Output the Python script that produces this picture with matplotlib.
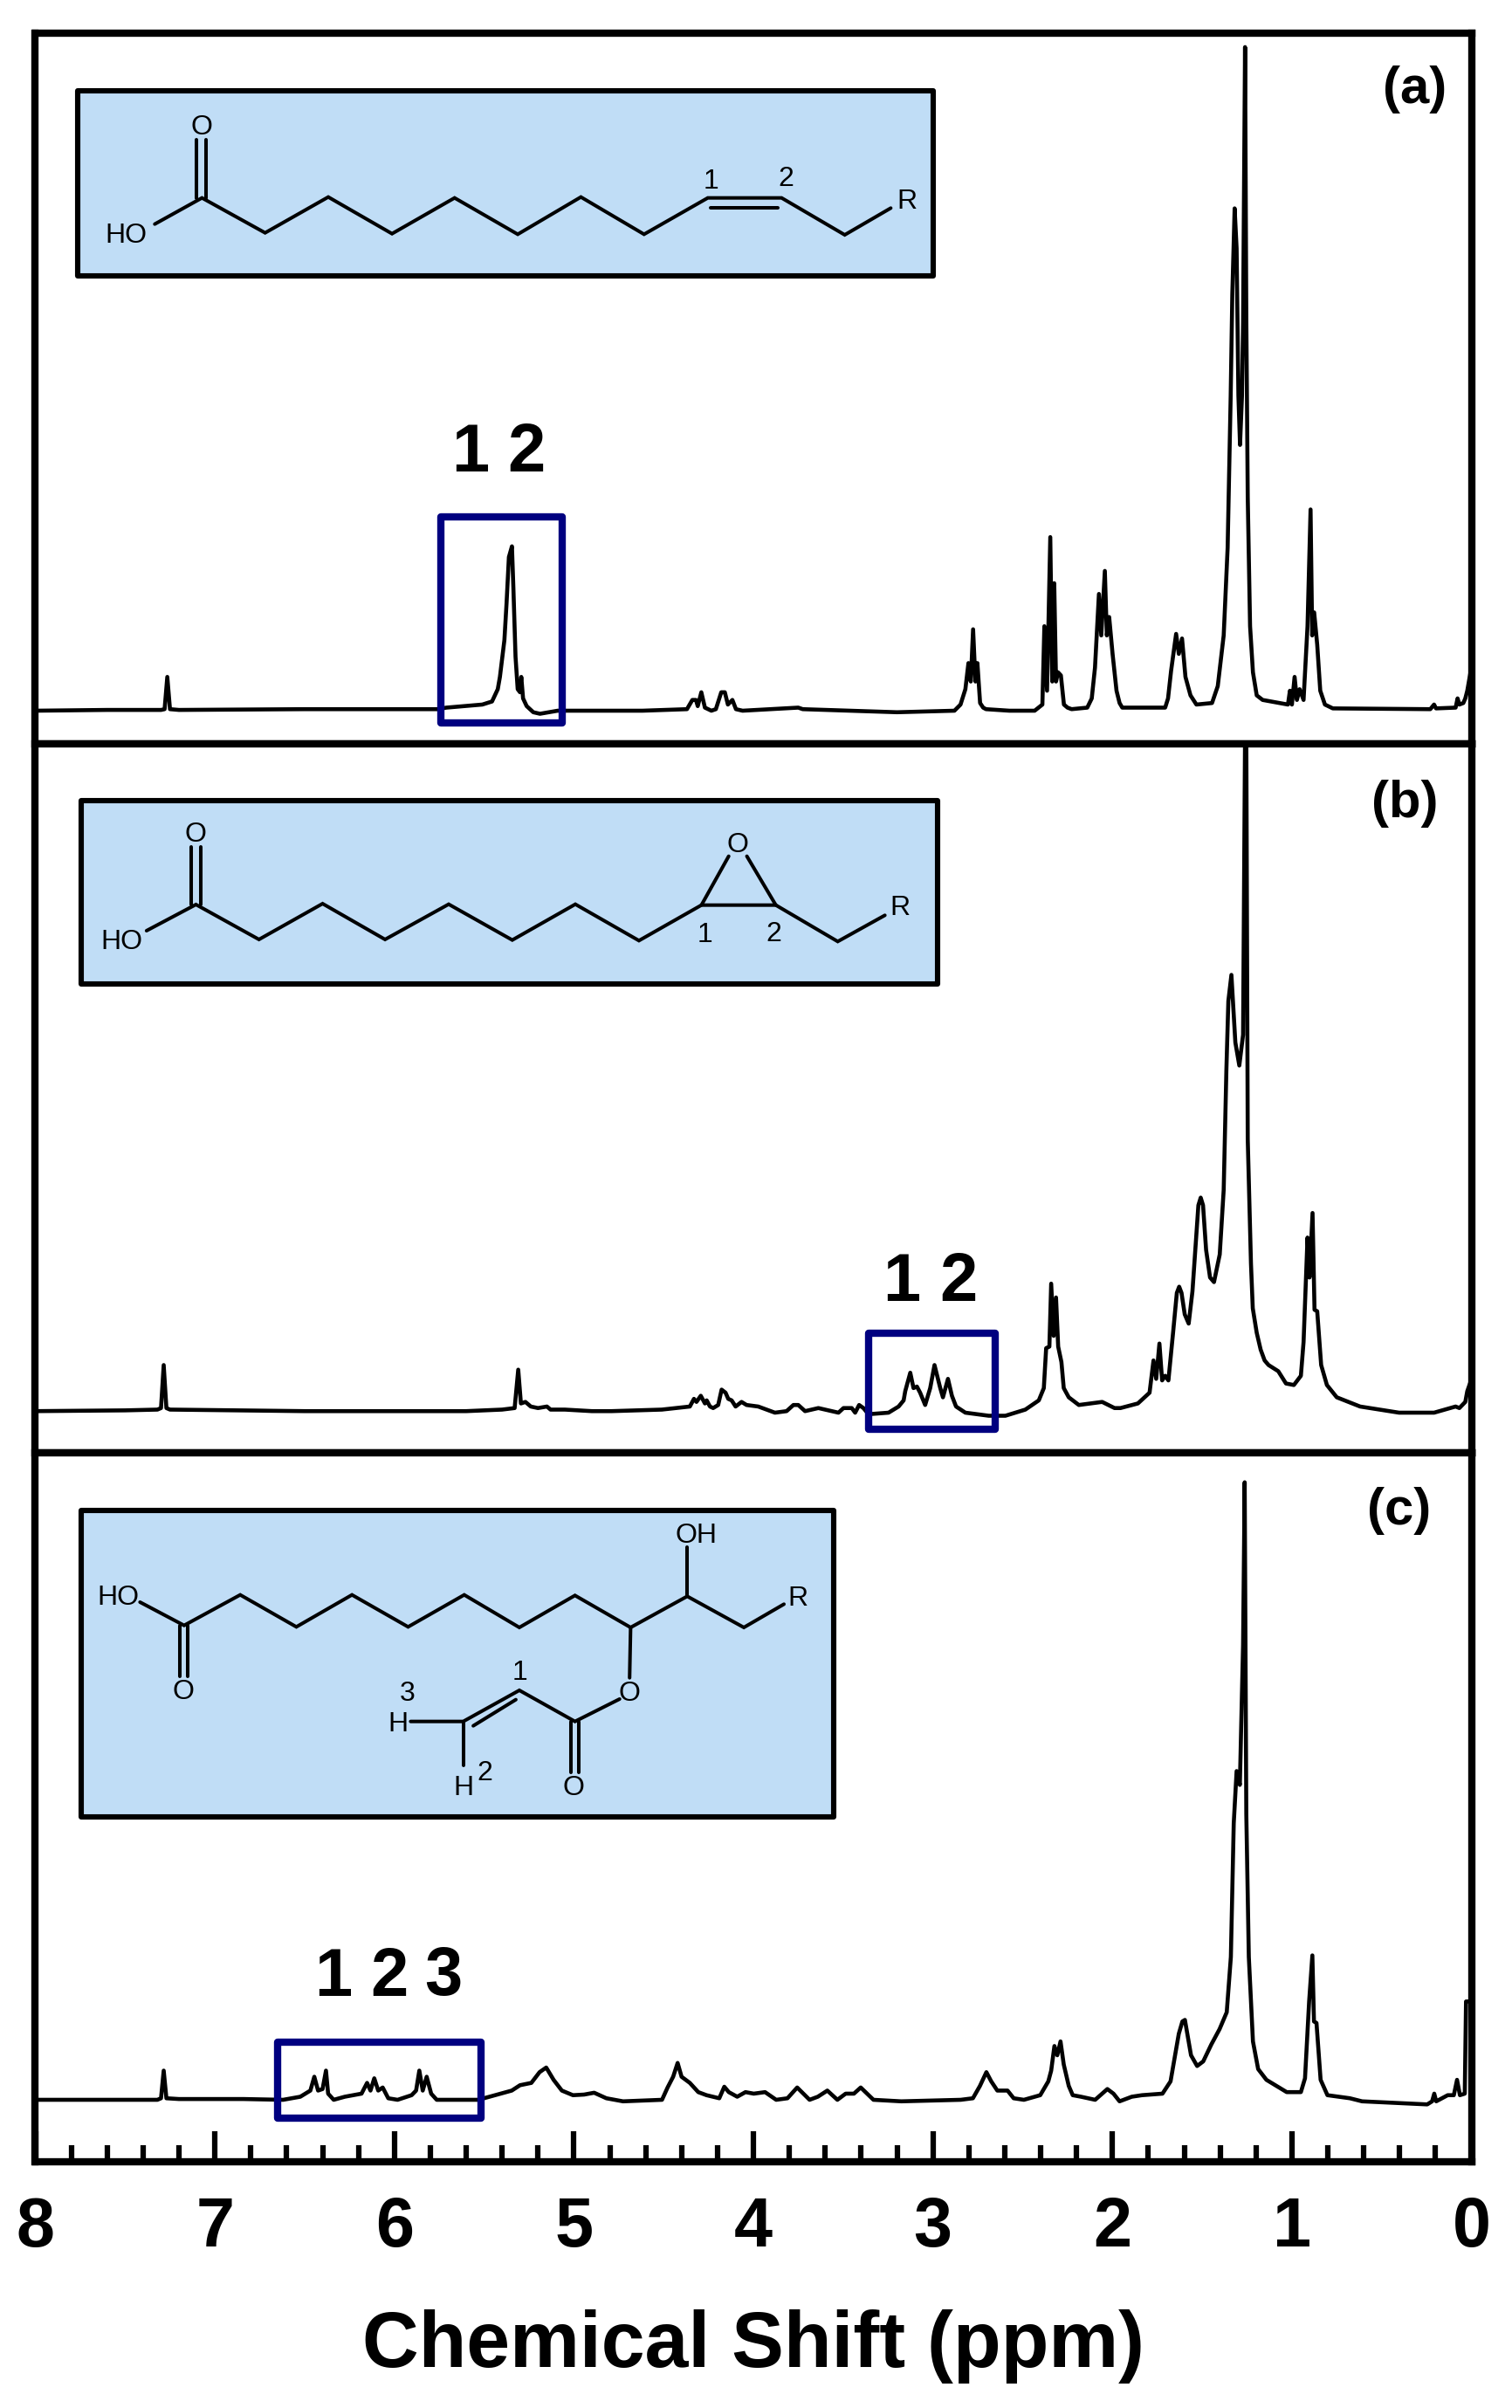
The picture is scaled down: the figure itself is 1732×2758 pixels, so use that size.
import matplotlib
matplotlib.use("Agg")
import matplotlib.pyplot as plt
from matplotlib.patches import Rectangle

plt.rcParams['font.family'] = ['Liberation Sans', 'DejaVu Sans']

W, H = 1733, 2758

# ---------- spectra: (chemical shift in ppm, intensity) ----------
spectrum_a = [
    (8.0, 0), (7.6, 0.5), (7.30, 0.5), (7.28, 1), (7.265, 22), (7.25, 1), (7.2, 0.5), (6.5, 1), (6.0, 1),
    (5.76, 1), (5.71, 2), (5.51, 4), (5.456, 6), (5.424, 14), (5.412, 22), (5.387, 46), (5.375, 70),
    (5.362, 100), (5.345, 107), (5.337, 80), (5.325, 35), (5.313, 14), (5.30, 12), (5.293, 22), (5.283, 8),
    (5.263, 3), (5.226, -1), (5.189, -2), (5.09, 0), (4.618, 0), (4.37, 1), (4.34, 7), (4.32, 7), (4.31, 3),
    (4.29, 12), (4.27, 2), (4.234, 0), (4.209, 1), (4.179, 12), (4.159, 12), (4.142, 4), (4.117, 7), (4.097, 1),
    (4.06, 0), (3.75, 2), (3.725, 1), (3.2, -1), (2.88, 0),
    (2.846, 4), (2.819, 14), (2.802, 31), (2.789, 19), (2.776, 53), (2.763, 19), (2.752, 31), (2.737, 5),
    (2.72, 2), (2.704, 1), (2.574, 0), (2.433, 0), (2.390, 4), (2.379, 55), (2.364, 13), (2.346, 113), (2.335, 19),
    (2.324, 83), (2.314, 19), (2.303, 25), (2.287, 23), (2.270, 4), (2.25, 2), (2.227, 1), (2.140, 2), (2.115, 8),
    (2.097, 28), (2.075, 76), (2.062, 49), (2.042, 91), (2.031, 49), (2.018, 61), (1.999, 37), (1.977, 13),
    (1.96, 5), (1.945, 2), (1.706, 2), (1.69, 8), (1.673, 26), (1.645, 50), (1.630, 37), (1.612, 47), (1.593, 22),
    (1.565, 10), (1.532, 4), (1.445, 5), (1.413, 16), (1.380, 49), (1.358, 106), (1.341, 205), (1.332, 271),
    (1.319, 327), (1.308, 301), (1.298, 205), (1.289, 173), (1.278, 205), (1.272, 253), (1.261, 432), (1.254, 256),
    (1.246, 139), (1.233, 55), (1.217, 25), (1.196, 10), (1.163, 7), (1.022, 4), (1.011, 13), (1.0, 4), (0.985, 22),
    (0.972, 7), (0.957, 14), (0.935, 7), (0.913, 55), (0.896, 131), (0.887, 49), (0.876, 64), (0.859, 43),
    (0.842, 13), (0.816, 4), (0.772, 1.5), (0.229, 1), (0.208, 4), (0.197, 1.5), (0.088, 2), (0.077, 8),
    (0.067, 4), (0.045, 5), (0.034, 8), (0.023, 13), (0.005, 25),
]

spectrum_b = [
    (8.0, 1), (7.5, 1.5), (7.32, 2), (7.30, 3), (7.285, 31), (7.27, 3), (7.25, 2), (6.5, 1), (5.6, 1), (5.4, 2),
    (5.33, 3), (5.31, 28), (5.295, 6), (5.27, 7), (5.24, 4), (5.2, 3), (5.15, 4), (5.13, 2), (5.05, 2), (4.9, 1),
    (4.79, 1), (4.51, 2), (4.354, 4), (4.331, 9), (4.317, 7), (4.293, 11), (4.27, 6), (4.26, 8), (4.242, 4),
    (4.224, 3), (4.196, 5), (4.177, 15), (4.155, 13), (4.14, 9), (4.121, 8), (4.099, 4), (4.066, 7), (4.038, 5),
    (3.973, 4), (3.88, 0), (3.815, 1), (3.777, 5), (3.75, 5), (3.712, 1), (3.638, 3), (3.526, 0), (3.498, 3),
    (3.452, 3), (3.433, 0), (3.411, 5), (3.387, 3), (3.359, -1), (3.247, 0), (3.191, 4), (3.163, 8), (3.154, 14),
    (3.126, 26), (3.108, 16), (3.089, 17), (3.071, 13), (3.043, 5), (3.015, 16), (2.991, 31), (2.959, 16),
    (2.944, 10), (2.916, 22), (2.894, 11), (2.871, 4), (2.819, 0), (2.689, -2), (2.596, -2), (2.485, 2),
    (2.41, 8), (2.382, 16), (2.369, 42), (2.351, 43), (2.341, 84), (2.327, 50), (2.314, 75), (2.302, 43),
    (2.284, 33), (2.271, 16), (2.243, 10), (2.187, 5), (2.057, 7), (1.988, 3), (1.955, 3), (1.858, 6),
    (1.793, 13), (1.771, 34), (1.756, 22), (1.738, 45), (1.723, 21), (1.706, 24), (1.688, 21), (1.662, 52),
    (1.641, 78), (1.628, 82), (1.615, 78), (1.597, 64), (1.575, 58), (1.554, 79), (1.521, 135), (1.508, 140),
    (1.495, 135), (1.478, 106), (1.456, 88), (1.434, 85), (1.402, 103), (1.380, 145), (1.365, 223), (1.354, 268),
    (1.337, 285), (1.315, 241), (1.293, 226), (1.272, 246), (1.261, 440), (1.254, 440), (1.246, 178), (1.228, 97),
    (1.218, 68), (1.196, 52), (1.174, 41), (1.152, 34), (1.13, 31), (1.076, 27), (1.033, 19), (0.989, 18),
    (0.950, 24), (0.935, 46), (0.913, 114), (0.902, 88), (0.885, 130), (0.874, 67), (0.859, 66), (0.837, 31),
    (0.805, 18), (0.750, 10), (0.620, 4), (0.403, 0), (0.208, 0), (0.088, 4), (0.067, 3), (0.034, 7), (0.023, 14),
    (0.005, 20),
]

spectrum_c = [
    (8.0, 0), (7.6, 0), (7.32, 0), (7.30, 1), (7.285, 19), (7.27, 1), (7.2, 0.5), (6.84, 0.5), (6.62, 0),
    (6.524, 2), (6.468, 6), (6.446, 15), (6.425, 6), (6.40, 7), (6.381, 19), (6.369, 4), (6.338, 0), (6.276, 2),
    (6.183, 4), (6.152, 11), (6.133, 6), (6.112, 14), (6.09, 6), (6.065, 8), (6.034, 1), (5.982, 0), (5.904, 3),
    (5.879, 6), (5.861, 19), (5.842, 6), (5.82, 15), (5.795, 4), (5.764, 0), (5.532, 0), (5.439, 3), (5.346, 6),
    (5.30, 9.5), (5.237, 11), (5.191, 18), (5.154, 21), (5.113, 13), (5.067, 6), (5.005, 3), (4.943, 3.4),
    (4.887, 4.6), (4.819, 1), (4.726, -1), (4.509, 0), (4.478, 8), (4.447, 15), (4.422, 24), (4.40, 15),
    (4.354, 11), (4.307, 5), (4.261, 3), (4.19, 1), (4.162, 8.5), (4.137, 5), (4.09, 2), (4.044, 5), (3.998, 4),
    (3.935, 5), (3.873, 0), (3.81, 1), (3.756, 8), (3.687, 0), (3.641, 2), (3.588, 6), (3.532, 0), (3.486, 4),
    (3.44, 4), (3.402, 8), (3.331, 0), (3.176, -1), (2.845, 0), (2.777, 1), (2.738, 9), (2.702, 18), (2.675, 12),
    (2.641, 6), (2.584, 6), (2.55, 1), (2.493, 0), (2.402, 3), (2.357, 12), (2.341, 19), (2.323, 35), (2.307, 29),
    (2.289, 38), (2.271, 23), (2.243, 9), (2.221, 3), (2.175, 2), (2.096, 0), (2.028, 7), (1.994, 4), (1.96, -1),
    (1.892, 2), (1.835, 3), (1.721, 4), (1.676, 12), (1.63, 43), (1.61, 51), (1.596, 52), (1.562, 29), (1.528, 22),
    (1.494, 25), (1.449, 36), (1.403, 46), (1.363, 57), (1.34, 93), (1.324, 180), (1.308, 214), (1.29, 205),
    (1.272, 296), (1.263, 402), (1.254, 186), (1.24, 93), (1.217, 38), (1.188, 20), (1.142, 13), (1.029, 5),
    (0.95, 5), (0.927, 14), (0.904, 64), (0.886, 94), (0.877, 51), (0.863, 50), (0.84, 13), (0.802, 3),
    (0.677, 1), (0.609, -1), (0.246, -3), (0.219, -1), (0.207, 4), (0.196, -1), (0.132, 3), (0.098, 3),
    (0.08, 13), (0.064, 3), (0.037, 4), (0.03, 64), (0.005, 64),
]

major_ticks = [8, 7, 6, 5, 4, 3, 2, 1, 0]
major_labels = ['8', '7', '6', '5', '4', '3', '2', '1', '0']
minor_ticks = [v / 5 for v in range(0, 41) if v % 5 != 0]
panel_tags = ['(a)', '(b)', '(c)']
axis_title = 'Chemical Shift (ppm)'

# ---------- layout in pixels ----------
LEFT, RIGHT = 40.5, 1685.5
PANELS = [(38, 852, 814), (852, 1664, 1618), (1664, 2476, 2405)]  # top, bottom, baseline
UNIT = 1.7594  # pixels per intensity unit
SPECTRA = [spectrum_a, spectrum_b, spectrum_c]

fig = plt.figure(figsize=(W / 100, H / 100), dpi=100, facecolor='white')
axes = []
for (top, bottom, base), spec in zip(PANELS, SPECTRA):
    ax = fig.add_axes([LEFT / W, 1 - bottom / H, (RIGHT - LEFT) / W, (bottom - top) / H])
    ppm, inten = zip(*spec)
    ax.plot(ppm, inten, color='black', lw=3.3, solid_joinstyle='round')
    ax.set_xlim(8, 0)
    ax.set_ylim((base - bottom) / UNIT, (base - top) / UNIT)
    ax.set_yticks([])
    for s in ax.spines.values():
        s.set_linewidth(6)
        s.set_zorder(5)
    ax.set_xticks([])
    axes.append(ax)

ax_c = axes[-1]
ax_c.set_xticks(major_ticks)
ax_c.set_xticklabels(major_labels, fontsize=57, fontweight='bold')
ax_c.set_xticks(minor_ticks, minor=True)
ax_c.tick_params(axis='x', which='major', direction='in', length=25, width=4.5, pad=28)
ax_c.tick_params(axis='x', which='minor', direction='in', length=14, width=4.5)
ax_c.set_xlabel(axis_title, fontsize=64.5, fontweight='bold', labelpad=40)

# ---------- overlay in pixel coordinates ----------
ov = fig.add_axes([0, 0, 1, 1], zorder=10)
ov.set_xlim(0, W)
ov.set_ylim(H, 0)
ov.axis('off')
ov.patch.set_alpha(0)

def box(x0, y0, x1, y1, fc, ec, lw):
    ov.add_patch(Rectangle((x0, y0), x1 - x0, y1 - y0, fc=fc, ec=ec, lw=lw, joinstyle='round'))

def structure(xo, yo, sx, sy, lines, labels):
    for pts in lines:
        ov.plot([xo + p[0] / sx for p in pts], [yo + p[1] / sy for p in pts],
                color='black', lw=2.9, solid_joinstyle='miter', solid_capstyle='round')
    for zx, zy, s in labels:
        ov.text(xo + zx / sx, yo + zy / sy + 3, s, ha='center', va='center', fontsize=23, color='black')

BLUE = '#C0DDF6'
NAVY = '#000080'

# structure (a)
box(88.7, 104, 1069, 316, BLUE, 'black', 4.4)
structure(40, 80, 1.479, 3, [
    [(203, 530), (283, 440), (390, 560), (497, 437), (605, 563), (711, 440), (818, 565), (925, 437),
     (1032, 565), (1140, 440), (1265, 440), (1372, 567), (1450, 475)],
    [(273, 440), (273, 240)], [(290, 440), (290, 240)], [(1145, 475), (1258, 475)],
], [(283, 190, 'O'), (155, 560, 'HO'), (1145, 375, '1'), (1272, 365, '2'), (1477, 445, 'R')])

# structure (b)
box(93, 917, 1074, 1127, BLUE, 'black', 4.4)
structure(80, 910, 1.537, 3, [
    [(135, 468), (222, 378), (333, 498), (445, 375), (555, 498), (667, 377), (779, 500), (890, 377),
     (1002, 502), (1112, 380), (1243, 380), (1352, 505), (1435, 415)],
    [(1112, 380), (1160, 212)], [(1243, 380), (1192, 212)],
    [(213, 378), (213, 180)], [(230, 378), (230, 180)],
], [(222, 128, 'O'), (1175, 165, 'O'), (92, 498, 'HO'), (1118, 475, '1'), (1240, 472, '2'), (1462, 380, 'R')])

# structure (c)
box(92.6, 1730, 955, 2081, BLUE, 'black', 4.4)
structure(80, 1720, 1.742, 3, [
    [(140, 345), (228, 425), (340, 320), (452, 430), (563, 320), (675, 430), (787, 320), (897, 432),
     (1008, 322), (1119, 432), (1232, 325), (1345, 432), (1425, 352)],
    [(1232, 325), (1232, 155)], [(1119, 432), (1117, 605)],
    [(1097, 678), (1008, 755), (897, 648), (785, 755), (680, 755)], [(890, 680), (805, 770)],
    [(785, 755), (785, 905)], [(1000, 755), (1000, 930)], [(1016, 755), (1016, 930)],
    [(220, 425), (220, 600)], [(236, 425), (236, 600)],
], [(1250, 108, 'OH'), (1452, 325, 'R'), (97, 320, 'HO'), (1117, 650, 'O'), (655, 757, 'H'), (785, 975, 'H'),
    (1005, 975, 'O'), (227, 645, 'O'), (898, 580, '1'), (673, 650, '3'), (828, 925, '2')])

# navy highlight boxes
box(505, 592, 644, 828, 'none', NAVY, 6)
box(995, 1527, 1140, 1637, 'none', NAVY, 6)
box(318, 2339, 551, 2426, 'none', NAVY, 6)

# peak numbers
for x, y, s in [(539, 520, '1'), (603, 520, '2'), (1033, 1470, '1'), (1098, 1470, '2'),
                (382, 2265, '1'), (446, 2265, '2'), (508, 2265, '3')]:
    ov.text(x, y, s, ha='center', va='center', fontsize=56, fontweight='bold', color='black')

# panel tags
for (x, y), s in zip([(1621, 103), (1609, 921), (1603, 1731)], panel_tags):
    ov.text(x, y, s, ha='center', va='center', fontsize=43, fontweight='bold', color='black')

fig.savefig('out.png', dpi=100, facecolor='white')
